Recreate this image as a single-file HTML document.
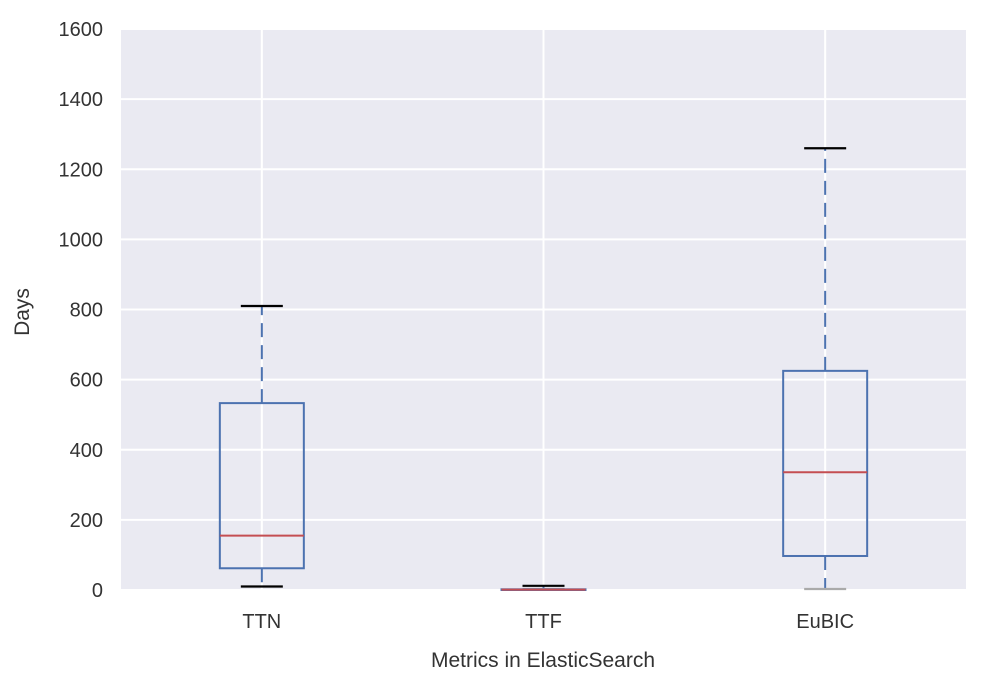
<!DOCTYPE html>
<html><head><meta charset="utf-8"><style>
body{margin:0;background:#fff;}
svg{display:block;font-family:"Liberation Sans",sans-serif;}
</style></head><body>
<svg id="chart" width="1006" height="685">
<rect x="121" y="29" width="845" height="561" fill="#eaeaf2"/>
<g id="grid"></g><g id="ticks"></g><g id="boxes"></g>
<text x="543" y="667" font-size="21" fill="#333" text-anchor="middle">Metrics in ElasticSearch</text>
<text transform="translate(29,312) rotate(-90)" font-size="21" fill="#333" text-anchor="middle">Days</text>
</svg>
<script>
const categories=["TTN","TTF","EuBIC"];
const whiskerLow=[10,0,0];
const q1=[62,0,97];
const median=[155,1,336];
const q3=[533,2,625];
const whiskerHigh=[810,12,1260];
const yTicks=[0,200,400,600,800,1000,1200,1400,1600];
const NS="http://www.w3.org/2000/svg";
const L=121,R=966,T=29,B=590,yMax=1600;
const y=v=>B-(v/yMax)*(B-T);
const step=(R-L)/categories.length;
const x=i=>L+step*(i+0.5);
function mk(tag,attrs,parent){const e=document.createElementNS(NS,tag);for(const k in attrs)e.setAttribute(k,attrs[k]);document.getElementById(parent).appendChild(e);return e;}
yTicks.forEach(t=>{
 const g=mk('line',{x1:L,x2:R,y1:y(t),y2:y(t),stroke:'#fff','stroke-width':2},'grid');
 
 
 const tx=mk('text',{x:103,y:y(t)+7,'font-size':20,fill:'#333','text-anchor':'end'},'ticks');
 tx.textContent=t;
 
 
});
categories.forEach((c,i)=>{
 const g=mk('line',{x1:x(i),x2:x(i),y1:T,y2:B,stroke:'#fff','stroke-width':2},'grid');
 
 
 const tx=mk('text',{x:x(i),y:628,'font-size':20,fill:'#333','text-anchor':'middle'},'ticks');
 tx.textContent=c;
 
 
 const cx=x(i),hw=42,cw=21;
 const w1=mk('line',{x1:cx,x2:cx,y1:y(q3[i]),y2:y(whiskerHigh[i]),stroke:'#4c72b0','stroke-width':2,'stroke-dasharray':'14,8'},'boxes');
 
 
 const w2=mk('line',{x1:cx,x2:cx,y1:y(q1[i]),y2:y(whiskerLow[i]),stroke:'#4c72b0','stroke-width':2,'stroke-dasharray':'14,8'},'boxes');
 
 
 const c1=mk('line',{x1:cx-cw,x2:cx+cw,y1:y(whiskerHigh[i]),y2:y(whiskerHigh[i]),stroke:'#000','stroke-width':2.2},'boxes');
 
 
 const c2=mk('line',{x1:cx-cw,x2:cx+cw,y1:Math.min(y(whiskerLow[i]),B-1),y2:Math.min(y(whiskerLow[i]),B-1),stroke:whiskerLow[i]<=0?'#aaa':'#000','stroke-width':2.2},'boxes');
 
 
 const bx=mk('rect',{x:cx-hw,y:y(q3[i]),width:2*hw,height:Math.max(y(q1[i])-y(q3[i]),0.5),fill:'none',stroke:'#4c72b0','stroke-width':2},'boxes');
 
 
 const md=mk('line',{x1:cx-hw,x2:cx+hw,y1:y(median[i]),y2:y(median[i]),stroke:'#c44e52','stroke-width':2},'boxes');
 
 
});
</script>
</body></html>
